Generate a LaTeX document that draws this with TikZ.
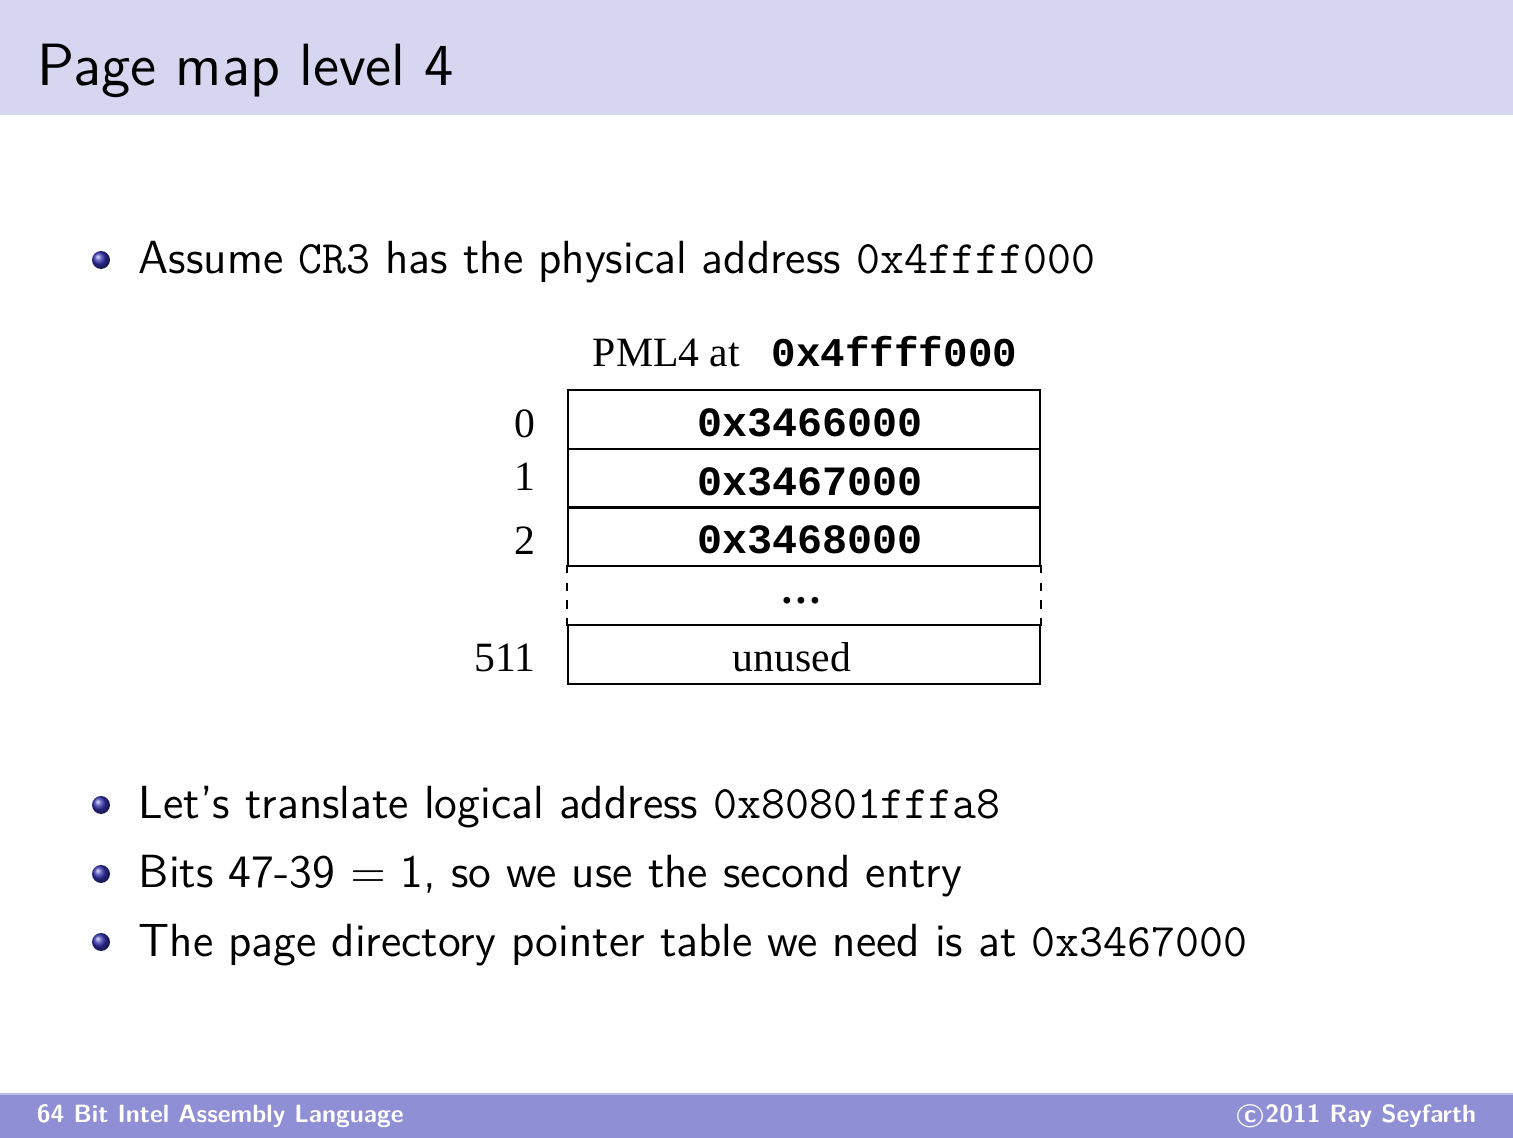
\documentclass[tikz,border=0pt]{standalone}
\usepackage{fontspec}
\newfontfamily\timesf{Liberation Serif}
\newfontfamily\courf{Liberation Mono}
\definecolor{titlebg}{RGB}{214,214,240}
\definecolor{footbg}{RGB}{143,143,214}
\definecolor{footline}{RGB}{190,190,232}
\definecolor{structblue}{rgb}{0.2,0.2,0.7}
\tikzset{
  body/.style={anchor=base west,inner sep=0pt,font=\sffamily\fontsize{11.15}{13}\selectfont},
  ballbullet/.style={circle,inner sep=0pt,minimum size=4.3pt,shading=ball,ball color=structblue},
  cellbox/.style={rectangle,draw,line width=0.48pt,minimum width=113.18pt,minimum height=14.15pt,inner sep=0pt},
  blankbox/.style={rectangle,minimum width=113.18pt,minimum height=14.15pt,inner sep=0pt},
  celltext/.style={anchor=base,inner sep=0pt,font=\courf\bfseries\fontsize{10}{12}\selectfont},
  serift/.style={inner sep=0pt,font=\timesf\fontsize{10}{12}\selectfont},
  idx/.style={serift,anchor=base east},
  foot/.style={inner sep=0pt,text=white,font=\sffamily\bfseries\fontsize{6}{7}\selectfont}
}
\begin{document}
\begin{tikzpicture}[x=0.23979pt,y=-0.23979pt]
\useasboundingbox (0,0) rectangle (1513,1138);
% title bar
\fill[titlebg] (0,0) rectangle (1513,115);
\node[anchor=base west,inner sep=0pt,font=\sffamily\fontsize{14.3}{17}\selectfont] (title) at (37,86) {Page map level 4};
% footer
\fill[footbg] (0,1094) rectangle (1513,1138);
\draw[footline,line width=0.4pt] (0,1094) -- (1513,1094);
\node[foot,anchor=base west] (fl) at (36,1123) {64 Bit Intel Assembly Language};
\node[foot,anchor=base east] (fr) at (1477,1123) {\textcircled{c}2011 Ray Seyfarth};
% bullets
\node[ballbullet] (b1) at (101,260) {};
\node[body] (l1) at (138,274) {Assume \texttt{CR3} has the physical address \texttt{0x4ffff000}};
\node[ballbullet] (b2) at (101,805) {};
\node[body] (l2) at (138,819) {Let’s translate logical address \texttt{0x80801fffa8}};
\node[ballbullet] (b3) at (101,874) {};
\node[body] (l3) at (138,888) {Bits 47-39 $=$ 1, so we use the second entry};
\node[ballbullet] (b4) at (101,942) {};
\node[body] (l4) at (138,957) {The page directory pointer table we need is at \texttt{0x3467000}};
% table header
\node[serift,anchor=base west] (hdr) at (592,367) {PML4 at};
\node[celltext,anchor=base west,font=\courf\bfseries\fontsize{9.8}{12}\selectfont] (hdraddr) at (771,367) {0x4ffff000};
% table
\node[cellbox] (r0) at (804,419.5) {};
\node[cellbox] (r1) at (804,478.5) {};
\node[cellbox] (r2) at (804,537) {};
\node[blankbox] (r3) at (804,595.5) {};
\node[cellbox] (r4) at (804,654.5) {};
\draw[line width=0.48pt,dash pattern=on 2pt off 2.2pt] (r3.north west) -- (r3.south west);
\draw[line width=0.48pt,dash pattern=on 2pt off 2.2pt] (r3.north east) -- (r3.south east);
\node[celltext] (t0) at (810,437) {0x3466000};
\node[celltext] (t1) at (810,496) {0x3467000};
\node[celltext] (t2) at (810,554) {0x3468000};
\node[serift,anchor=base,font=\timesf\bfseries\fontsize{10}{12}\selectfont] (t3) at (801,604) {\ldots};
\node[serift,anchor=base] (t4) at (792,672) {unused};
\node[idx] (i0) at (536,438) {0};
\node[idx] (i1) at (536,491) {1};
\node[idx] (i2) at (536,555) {2};
\node[idx] (i4) at (536,672) {511};
\end{tikzpicture}
\end{document}
